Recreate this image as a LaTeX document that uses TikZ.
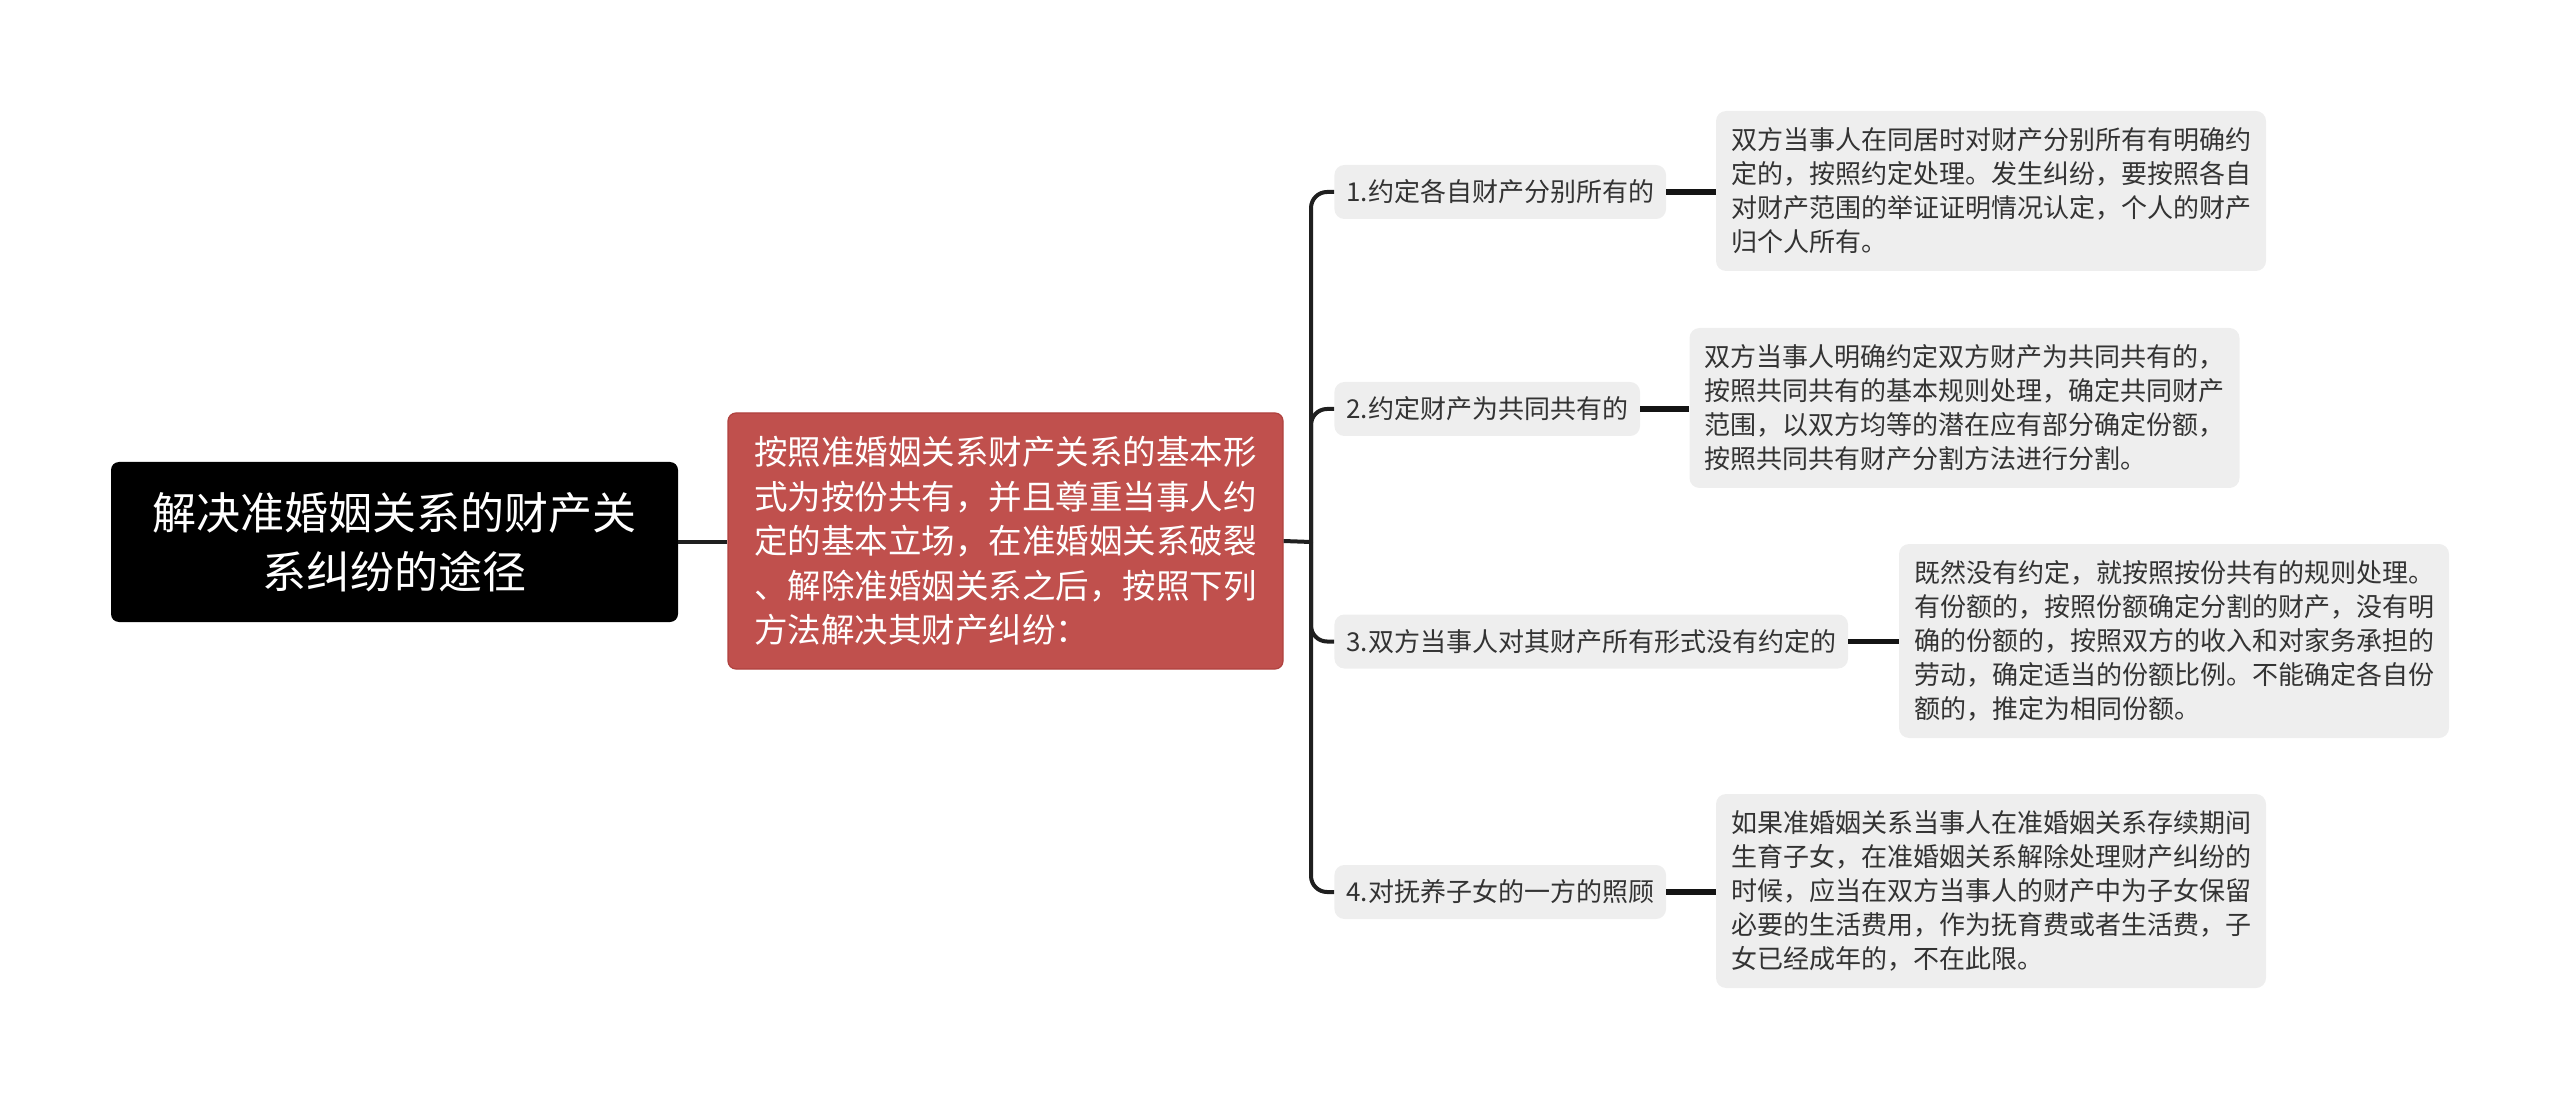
\documentclass[tikz,border=0pt]{standalone}
\usepackage{fontspec}
\newfontfamily\cjk{Noto Sans CJK SC}
\definecolor{redfill}{HTML}{C0504D}
\definecolor{redline}{HTML}{B0423F}
\definecolor{grayfill}{HTML}{EEEEEE}
\definecolor{txtgray}{HTML}{333333}
\begin{document}
\begin{tikzpicture}[x=0.5pt,y=-0.5pt,
  conn/.style={line width=2pt, draw=black!88},
  leafconn/.style={line width=2.6pt, draw=black!92},
  rootbox/.style={fill=black, rounded corners=4pt, text=white, font=\cjk\fontsize{22}{29.5}\selectfont, align=center, minimum width=283.5pt, minimum height=80pt, inner sep=0pt},
  mainbox/.style={fill=redfill, draw=redline, line width=0.6pt, rounded corners=4pt, text=white, font=\cjk\fontsize{16.75}{22.3}\selectfont, align=left, minimum width=277.5pt, minimum height=128pt, inner sep=0pt},
  subbox/.style={fill=grayfill, rounded corners=5pt, text=txtgray, font=\cjk\fontsize{13}{17}\selectfont, inner xsep=6pt, inner ysep=0pt, minimum height=27pt, anchor=west},
  leafbox/.style={fill=grayfill, rounded corners=5pt, text=txtgray, font=\cjk\fontsize{13}{17}\selectfont, align=left, minimum width=275pt, inner sep=0pt}
]
\useasboundingbox (0,0) rectangle (2560,1101);

\node[rootbox] (root) at (394.5,542) {解决准婚姻关系的财产关\\系纠纷的途径};
\node[mainbox] (main) at (1005.5,541) {按照准婚姻关系财产关系的基本形\\式为按份共有，并且尊重当事人约\\定的基本立场，在准婚姻关系破裂\\、解除准婚姻关系之后，按照下列\\方法解决其财产纠纷：};

\node[subbox] (s1) at (1334,192) {1.约定各自财产分别所有的};
\node[subbox] (s2) at (1334,409) {2.约定财产为共同共有的};
\node[subbox] (s3) at (1334,641.5) {3.双方当事人对其财产所有形式没有约定的};
\node[subbox] (s4) at (1334,892) {4.对抚养子女的一方的照顾};

\node[leafbox, minimum height=80pt] (l1) at (1991,191) {双方当事人在同居时对财产分别所有有明确约\\定的，按照约定处理。发生纠纷，要按照各自\\对财产范围的举证证明情况认定，个人的财产\\归个人所有。};
\node[leafbox, minimum height=80pt] (l2) at (1964.5,408) {双方当事人明确约定双方财产为共同共有的，\\按照共同共有的基本规则处理，确定共同财产\\范围，以双方均等的潜在应有部分确定份额，\\按照共同共有财产分割方法进行分割。};
\node[leafbox, minimum height=97pt] (l3) at (2174,641) {既然没有约定，就按照按份共有的规则处理。\\有份额的，按照份额确定分割的财产，没有明\\确的份额的，按照双方的收入和对家务承担的\\劳动，确定适当的份额比例。不能确定各自份\\额的，推定为相同份额。};
\node[leafbox, minimum height=97pt] (l4) at (1991,891) {如果准婚姻关系当事人在准婚姻关系存续期间\\生育子女，在准婚姻关系解除处理财产纠纷的\\时候，应当在双方当事人的财产中为子女保留\\必要的生活费用，作为抚育费或者生活费，子\\女已经成年的，不在此限。};

\coordinate (bus) at (1311,542);
\draw[conn] (root.east) -- (main.west |- root.east);
\draw[conn] (main.east) -- (bus);
\draw[conn, rounded corners=8pt] (s1.west) -| (bus);
\draw[conn, rounded corners=8pt] (s2.west) -| (bus);
\draw[conn, rounded corners=8pt] (s3.west) -| (bus);
\draw[conn, rounded corners=8pt] (s4.west) -| (bus);
\draw[leafconn] (s1.east) -- (s1.east -| l1.west);
\draw[leafconn] (s2.east) -- (s2.east -| l2.west);
\draw[leafconn] (s3.east) -- (s3.east -| l3.west);
\draw[leafconn] (s4.east) -- (s4.east -| l4.west);
\end{tikzpicture}
\end{document}
